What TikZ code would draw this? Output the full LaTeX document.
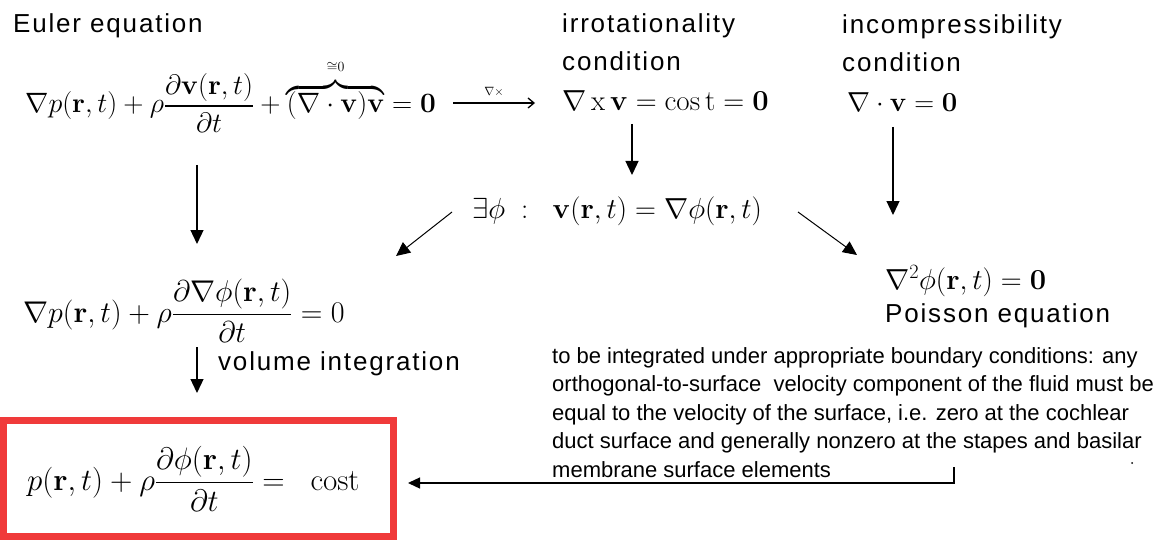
\documentclass[tikz,border=0pt]{standalone}
\usepackage{fix-cm}
\usepackage[no-math]{fontspec}
\usepackage{amsmath,amssymb}
\setmainfont{Liberation Sans}
\newfontfamily\lblfamily[LetterSpace=7]{Liberation Sans}
\newfontfamily\parfamily{Liberation Sans}
\usetikzlibrary{arrows.meta}
\definecolor{boxred}{RGB}{240,58,58}
\tikzset{
  lbl/.style={inner sep=0pt, anchor=base west, font=\lblfamily\fontsize{26}{30}\selectfont},
  eqn/.style={inner sep=0pt, anchor=base west, font=\fontsize{29}{34}\selectfont},
  para/.style={inner sep=0pt, anchor=north west, align=left, font=\parfamily\fontsize{22}{28.5}\selectfont},
  arr/.style={-{Triangle[length=14pt,width=13pt]}, line width=1.3pt},
  barb/.style={-{Straight Barb[length=6pt,width=10pt]}, line width=1.3pt},
  finalbox/.style={draw=boxred, line width=7pt, minimum width=390pt, minimum height=116pt, inner sep=0pt}
}
\begin{document}
\begin{tikzpicture}[x=1pt,y=-1pt]
\useasboundingbox (0,0) rectangle (1155,540);
% labels
\node[lbl] (eulerlbl) at (13,33) {Euler equation};
\node[lbl] (irrlbl) at (562,33) {irrotationality};
\node[lbl] (irrlbl2) at (562,71) {condition};
\node[lbl] (inclbl) at (842,34) {incompressibility};
\node[lbl] (inclbl2) at (842,72) {condition};
\node[lbl] (poisson) at (885,322) {Poisson equation};
\node[lbl] (volint) at (218,370) {volume integration};
% equations
\node[eqn, font=\fontsize{28}{34}\selectfont] (euler) at (25,113) {$\nabla p(\mathbf{r},t)+\rho\dfrac{\partial\mathbf{v}(\mathbf{r},t)}{\partial t}+\overbrace{(\nabla\cdot\mathbf{v})\mathbf{v}}^{\raisebox{6pt}{$\scriptscriptstyle\cong0$}}=\mathbf{0}$};
\node[eqn] (curl) at (562,111) {$\nabla\,\mathrm{x}\,\mathbf{v}=\mathrm{cos\,t}=\mathbf{0}$};
\node[eqn, font=\fontsize{27.5}{34}\selectfont] (div) at (847,112) {$\nabla\cdot\mathbf{v}=\mathbf{0}$};
\node[eqn] (pot) at (472,218) {$\exists\phi\ :\ \ \mathbf{v}(\mathbf{r},t)=\nabla\phi(\mathbf{r},t)$};
\node[eqn] (lap) at (885,289) {$\nabla^2\phi(\mathbf{r},t)=\mathbf{0}$};
\node[eqn, font=\fontsize{30}{35}\selectfont] (bern) at (23,322) {$\nabla p(\mathbf{r},t)+\rho\dfrac{\partial\nabla\phi(\mathbf{r},t)}{\partial t}=0$};
\node[finalbox] (finbox) at (198.5,478.5) {};
\node[eqn, font=\fontsize{31}{36}\selectfont] (final) at (27,490) {$p(\mathbf{r},t)+\rho\dfrac{\partial\phi(\mathbf{r},t)}{\partial t}=\ \ \mathrm{cost}$};
% boundary conditions text
\node[para] (bc) at (552,347) {to be integrated under appropriate boundary conditions: any\\
orthogonal-to-surface\ \ velocity component of the fluid must be\\
equal to the velocity of the surface, i.e. zero at the cochlear\\
duct surface and generally nonzero at the stapes and basilar\\
membrane surface elements};
\fill (1132,463) circle (1pt);
% connector end points
\coordinate (e1) at (453,103);
\coordinate (e2) at (535,103);
\coordinate (a1) at (197,165);
\coordinate (a2) at (197,244);
\coordinate (b1) at (632,124);
\coordinate (b2) at (632,175);
\coordinate (c1) at (893,127);
\coordinate (c2) at (893,215);
\coordinate (d1) at (452,212);
\coordinate (d2) at (396,256);
\coordinate (f1) at (798,212);
\coordinate (f2) at (857,255);
\coordinate (g1) at (197,347);
\coordinate (g2) at (197,393);
\coordinate (h1) at (954,467);
\coordinate (h2) at (408,483);
% connectors
\draw[barb] (e1) -- node[above=3pt, font=\fontsize{12}{14}\selectfont] (curlop) {$\nabla\times$} (e2);
\draw[arr] (a1) -- (a2);
\draw[arr] (b1) -- (b2);
\draw[arr] (c1) -- (c2);
\draw[arr, line width=1pt] (d1) -- (d2);
\draw[arr, line width=1pt] (f1) -- (f2);
\draw[arr] (g1) -- (g2);
\draw[-{Triangle[length=12pt,width=11pt]}, line width=1.3pt] (h1) |- (h2);
\end{tikzpicture}
\end{document}
